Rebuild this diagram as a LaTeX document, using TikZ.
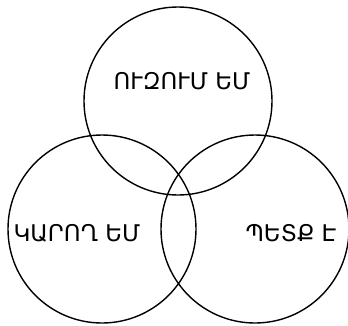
\documentclass[tikz,border=0pt]{standalone}
\usepackage{fontspec}
\newfontfamily\armfont{DejaVu Sans}
\usetikzlibrary{positioning}

\begin{document}
\begin{tikzpicture}[x=1pt, y=-1pt,
  ring/.style={draw, circle, line width=1.4pt, minimum size=188pt, inner sep=0pt},
  lbl/.style={inner sep=0pt, font=\armfont\fontsize{23}{26}\selectfont}
]
\useasboundingbox (0,0) rectangle (348,325);

\node[ring] (want) at (178,101) {};
\node[ring] (can)  at (102,229) {};
\node[ring] (must) at (255,229) {};

\node[lbl] (twant) at (182,81)  {ՈՒԶՈՒՄ ԵՄ};
\node[lbl] (tcan)  at (77,233)  {ԿԱՐՈՂ ԵՄ};
\node[lbl] (tmust) at (291,233) {ՊԵՏՔ Է};
\end{tikzpicture}
\end{document}
